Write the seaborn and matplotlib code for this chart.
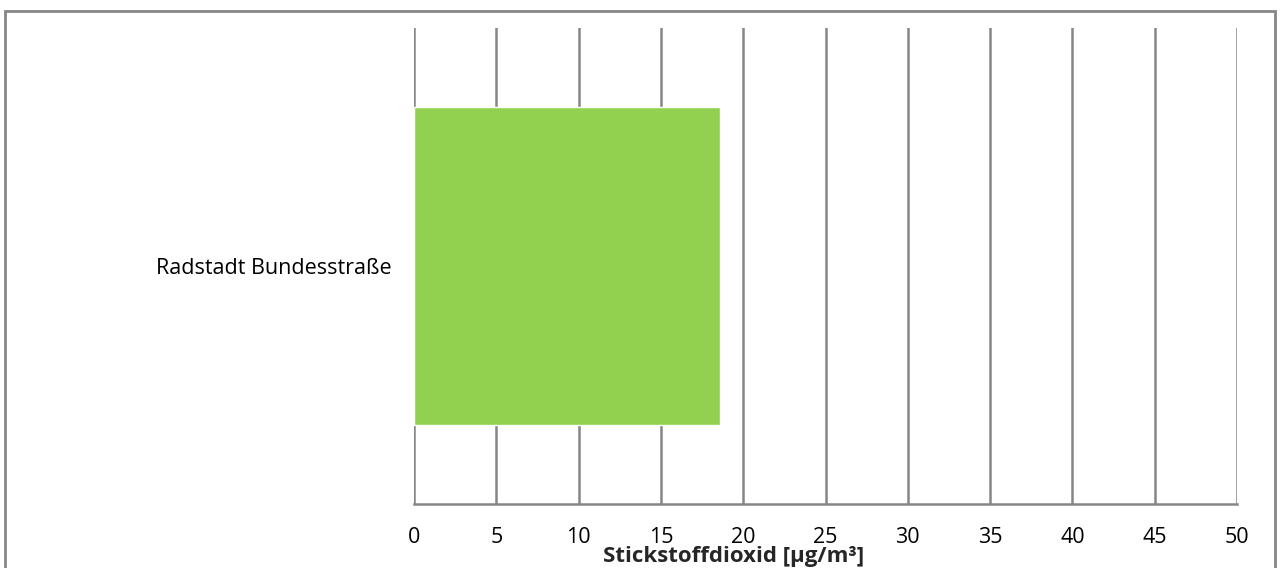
import matplotlib
matplotlib.use("Agg")
import matplotlib.pyplot as plt
from matplotlib.patches import Rectangle
import seaborn as sns
import pandas as pd

stations = ["Radstadt Bundesstraße"]
no2_values = [18.6]
x_ticks = [0, 5, 10, 15, 20, 25, 30, 35, 40, 45, 50]

sns.set_theme(style="white")
plt.rcParams["font.family"] = ["Open Sans", "DejaVu Sans"]

W, H = 1285, 568
fig = plt.figure(figsize=(W / 100, H / 100), dpi=100)
ax = fig.add_axes([414 / W, 1 - 504 / H, (1237 - 414) / W, (504 - 28) / H])

df = pd.DataFrame({"station": stations, "value": no2_values})
sns.barplot(data=df, x="value", y="station", orient="h", color="#92D050",
            width=0.666, saturation=1, ax=ax, zorder=3)

grid_c = "#868686"
ax.set_xlim(0, 50)
ax.set_ylim(0.5, -0.5)
ax.set_xticks(x_ticks)
ax.set_xticklabels([str(t) for t in x_ticks])
ax.xaxis.grid(True, color=grid_c, linewidth=1.8, zorder=1)
ax.set_axisbelow(True)
for s in ["top", "right", "left"]:
    ax.spines[s].set_visible(False)
ax.spines["bottom"].set_color(grid_c)
ax.spines["bottom"].set_linewidth(1.8)
ax.tick_params(axis="x", length=0, pad=16.5, labelsize=15.5, colors="black")
ax.tick_params(axis="y", length=0, pad=16, labelsize=15.5, colors="black")
ax.set_ylabel("")
ax.set_xlabel("")

# axis title sits just under the tick labels, left of the axis centre
fig.text(734 / W, 1 - 562 / H, "Stickstoffdioxid [µg/m³]", fontsize=16,
         fontweight="bold", ha="center", va="baseline")

# outer frame of the chart area
fig.patches.append(Rectangle((5 / W, -0.1), (1275 - 5) / W, 1.1 - 11 / H,
                             transform=fig.transFigure, fill=False,
                             edgecolor=grid_c, linewidth=2))

fig.savefig("out.png", dpi=100)
